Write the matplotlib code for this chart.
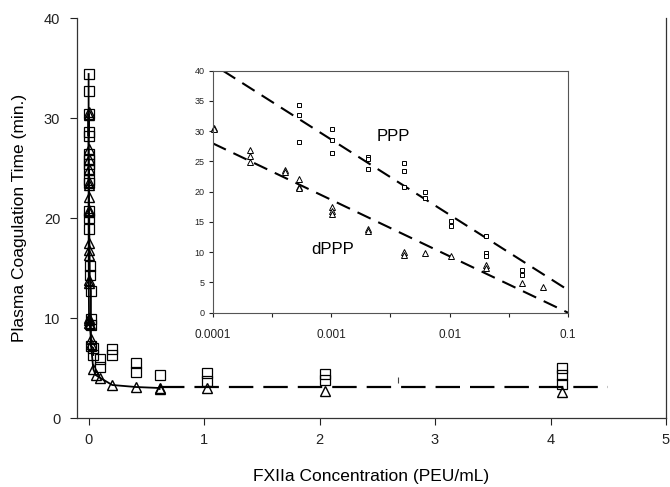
import matplotlib
matplotlib.use("Agg")
import matplotlib.pyplot as plt
import numpy as np

plt.rcParams['font.family'] = ['Liberation Sans', 'DejaVu Sans']

# region data
# PPP (squares)
ppp_x = [0.00054, 0.00054, 0.00054,
         0.001025, 0.001025, 0.001025,
         0.00205, 0.00205, 0.00205,
         0.0041, 0.0041, 0.0041,
         0.00615, 0.00615,
         0.01025, 0.01025,
         0.0205, 0.0205, 0.0205, 0.0205,
         0.041, 0.041,
         0.1025, 0.1025,
         0.205, 0.205,
         0.41, 0.41,
         0.615,
         1.025, 1.025,
         2.05, 2.05,
         4.1, 4.1, 4.1]
ppp_y = [34.4, 32.7, 28.2,
         30.4, 28.6, 26.4,
         25.8, 25.4, 23.8,
         24.8, 23.5, 20.7,
         20.0, 18.9,
         15.2, 14.3,
         12.7, 9.9, 9.3, 7.2,
         7.0, 6.3,
         5.9, 5.1,
         6.9, 6.3,
         5.5, 4.6,
         4.3,
         4.5, 3.7,
         4.4, 3.8,
         5.0, 4.3, 3.4]

# dPPP (triangles)
dppp_x = [0.0001025, 0.0001025,
          0.000205, 0.000205, 0.000205,
          0.00041, 0.00041,
          0.00054, 0.00054, 0.00054,
          0.001025, 0.001025, 0.001025,
          0.00205, 0.00205,
          0.0041, 0.0041,
          0.00615,
          0.01025,
          0.0205, 0.0205,
          0.041,
          0.0615,
          0.1025,
          0.205,
          0.41,
          0.615, 0.615,
          1.025,
          2.05,
          4.1]
dppp_y = [30.6, 30.3,
          26.9, 25.9, 24.9,
          23.6, 23.3,
          22.1, 20.8, 20.6,
          17.5, 16.8, 16.3,
          13.8, 13.5,
          10.0, 9.5,
          9.8,
          9.4,
          7.9, 7.4,
          4.9,
          4.3,
          4.0,
          3.3,
          3.1,
          3.0, 2.9,
          3.0,
          2.7,
          2.6]

# connecting lines in the main panel stop at these concentrations
PPP_LINE_MAX = 0.041
DPPP_LINE_MAX = 0.615

# plateau (dashed) in the main panel
plateau_x = [0.615, 4.5]
plateau_y = [3.13, 3.13]

# small stray mark in the main panel
stray_x = [2.68]
stray_y = [3.8]

# log-linear fits shown in the inset
ppp_fit_x = [1.22e-4, 0.1]
ppp_fit_y = [40.0, 3.75]
dppp_fit_x = [1e-4, 0.1]
dppp_fit_y = [28.0, 0.0]

main_xticks = [0, 1, 2, 3, 4, 5]
main_yticks = [0, 10, 20, 30, 40]
inset_xticks = [0.0001, 0.001, 0.01, 0.1]
inset_xtick_labels = ["0.0001", "0.001", "0.01", "0.1"]
inset_xminor = [10 ** -3.5, 10 ** -2.5, 10 ** -1.5]
inset_yticks = [0, 5, 10, 15, 20, 25, 30, 35, 40]
INSET_XMAX = 0.1
# endregion

W, H = 670, 487
fig = plt.figure(figsize=(W / 100, H / 100), dpi=100)

# region main panel
ax = fig.add_axes([77 / W, 1 - 418 / H, 589 / W, 400 / H])
ax.set_xlim(-0.1, 5)
ax.set_ylim(0, 40)

px, py = np.array(ppp_x), np.array(ppp_y)
dx, dy = np.array(dppp_x), np.array(dppp_y)

sel = px <= PPP_LINE_MAX
ax.plot(px[sel], py[sel], '-', c='black', lw=1.3, zorder=2)
sel = dx <= DPPP_LINE_MAX
ax.plot(dx[sel], dy[sel], '-', c='black', lw=1.3, zorder=2)
ax.plot(plateau_x, plateau_y, c='black', lw=1.6, dashes=(11, 4.5), zorder=2)

ax.plot(px, py, 's', ms=7, mfc='none', mec='black', mew=0.9, zorder=3)
ax.plot(dx, dy, '^', ms=7.5, mfc='none', mec='black', mew=1.0, zorder=3)
ax.plot(stray_x, stray_y, '|', ms=4, mec='#444444', mew=0.8)

ax.set_xticks(main_xticks)
ax.set_yticks(main_yticks)
ax.tick_params(direction='out', length=5, width=0.8, labelsize=10.5,
               colors='#222222')
ax.tick_params(axis='x', pad=6)
ax.tick_params(axis='y', pad=7)
for side in ['left', 'bottom', 'right']:
    ax.spines[side].set_linewidth(0.9)
    ax.spines[side].set_color('#333333')
ax.spines['top'].set_visible(False)

ax.set_xlabel("FXIIa Concentration (PEU/mL)", fontsize=12.5, va='center')
ax.xaxis.set_label_coords(0.5, -0.147)
ax.set_ylabel("Plasma Coagulation Time (min.)", fontsize=12.5, va='center')
ax.yaxis.set_label_coords(-0.097, 0.5)
# endregion

# region inset
axi = fig.add_axes([212.7 / W, 1 - 312.7 / H, 355.3 / W, 242 / H])
axi.set_xscale('log')
axi.set_xlim(1e-4, INSET_XMAX)
axi.set_ylim(0, 40)

axi.plot(ppp_fit_x, ppp_fit_y, c='black', lw=1.5, dashes=(7, 4))
axi.plot(dppp_fit_x, dppp_fit_y, c='black', lw=1.5, dashes=(7, 4))
ins = px <= INSET_XMAX
axi.plot(px[ins], py[ins], 's', ms=3.2, mfc='white', mec='black', mew=0.7)
ins = dx <= INSET_XMAX
axi.plot(dx[ins], dy[ins], '^', ms=3.8, mfc='white', mec='black', mew=0.7,
         clip_on=False)

axi.text(0.00243, 29.1, "PPP", fontsize=12, ha='left', va='center')
axi.text(0.000686, 10.4, "dPPP", fontsize=12, ha='left', va='center')

axi.set_xticks(inset_xticks)
axi.set_xticklabels(inset_xtick_labels)
axi.set_xticks(inset_xminor, minor=True)
axi.set_xticklabels([], minor=True)
axi.set_yticks(inset_yticks)
axi.tick_params(which='both', direction='out', length=3, width=0.8,
                colors='#222222')
axi.tick_params(axis='x', labelsize=8.5, pad=9)
axi.tick_params(axis='y', labelsize=6.5, pad=3)
for s in axi.spines.values():
    s.set_linewidth(0.8)
    s.set_color('#555555')
# endregion

fig.savefig("out.png", dpi=100)
